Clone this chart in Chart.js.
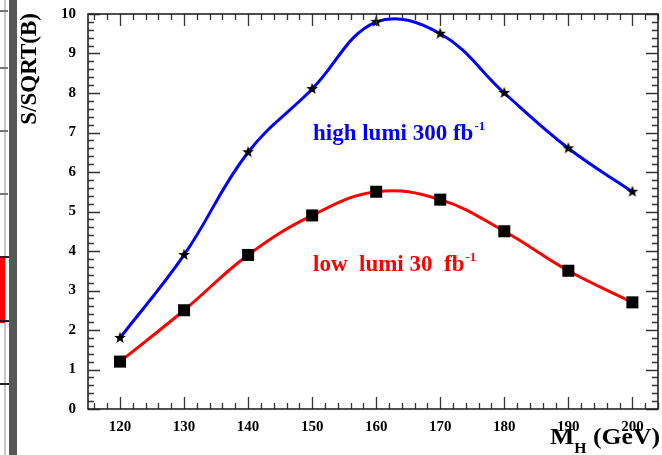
<!DOCTYPE html>
<html>
<head>
<meta charset="utf-8">
<script src="https://cdn.jsdelivr.net/npm/chart.js@4"></script>
<style>
html,body{margin:0;padding:0;background:#fff;}
#wrap{width:662px;height:455px;position:relative;}
</style>
</head>
<body>
<div id="wrap"><canvas id="c" width="662" height="455"></canvas></div>
<script>
// ---- data ----
const massPoints = [120, 130, 140, 150, 160, 170, 180, 190, 200];
const highLumi = [1.8, 3.9, 6.5, 8.1, 9.8, 9.5, 8.0, 6.6, 5.5];
const lowLumi  = [1.2, 2.5, 3.9, 4.9, 5.5, 5.3, 4.5, 3.5, 2.7];
const xTickValues = [120, 130, 140, 150, 160, 170, 180, 190, 200];
const yTickValues = [0, 1, 2, 3, 4, 5, 6, 7, 8, 9, 10];

const SERIF = '"Liberation Serif", "DejaVu Serif", serif';

function makeStar(size, outer, inner) {
  const cv = document.createElement('canvas');
  cv.width = size; cv.height = size;
  const g = cv.getContext('2d');
  const c = size / 2;
  g.beginPath();
  for (let i = 0; i < 10; i++) {
    const r = i % 2 === 0 ? outer : inner;
    const a = -Math.PI / 2 + i * Math.PI / 5;
    const px = c + r * Math.cos(a), py = c + r * Math.sin(a);
    if (i === 0) g.moveTo(px, py); else g.lineTo(px, py);
  }
  g.closePath();
  g.fillStyle = '#000';
  g.fill();
  return cv;
}
const starImg = makeStar(14, 6.2, 2.6);

const decor = {
  id: 'decor',
  beforeDraw(chart) {
    const ctx = chart.ctx;
    ctx.save();
    ctx.fillStyle = '#fff';
    ctx.fillRect(0, 0, chart.width, chart.height);
    ctx.fillStyle = '#585858';
    ctx.fillRect(9, 0, 8, 455);
    ctx.fillStyle = '#c8c8c8';
    ctx.fillRect(4, 0, 2, 455);
    ctx.fillStyle = '#ff0000';
    ctx.fillRect(0, 256, 5, 67);
    ctx.fillStyle = '#777';
    [10, 67, 130, 193].forEach(y => ctx.fillRect(0, y, 8, 2));
    ctx.fillStyle = '#222';
    [256, 320, 383].forEach(y => ctx.fillRect(0, y, 9, 2));
    ctx.restore();
  },
  afterDraw(chart) {
    const ctx = chart.ctx;
    const xs = chart.scales.x, ys = chart.scales.y;
    const a = chart.chartArea;
    ctx.save();
    ctx.strokeStyle = '#333';
    ctx.lineWidth = 1.3;
    ctx.beginPath();
    for (let v = 116; v <= 204; v += 2) {
      const px = Math.round(xs.getPixelForValue(v)) + 0.5;
      const len = (v % 10 === 0) ? 12 : 6;
      ctx.moveTo(px, a.bottom); ctx.lineTo(px, a.bottom - len);
      ctx.moveTo(px, a.top); ctx.lineTo(px, a.top + len);
    }
    for (let i = 0; i <= 50; i++) {
      const v = i * 0.2;
      const py = Math.round(ys.getPixelForValue(v)) + 0.5;
      const len = (i % 5 === 0) ? 12 : 6;
      ctx.moveTo(a.left, py); ctx.lineTo(a.left + len, py);
      ctx.moveTo(a.right, py); ctx.lineTo(a.right - len, py);
    }
    ctx.stroke();
    ctx.lineWidth = 1.6;
    ctx.strokeStyle = '#222';
    ctx.strokeRect(a.left, a.top, a.right - a.left, a.bottom - a.top);

    // y title
    ctx.fillStyle = '#000';
    ctx.font = 'bold 23px ' + SERIF;
    ctx.save();
    ctx.translate(30, 13);
    ctx.rotate(-Math.PI / 2);
    ctx.textAlign = 'right';
    ctx.textBaseline = 'middle';
    ctx.fillText('S/SQRT(B)', 0, 0);
    ctx.restore();

    // x title
    ctx.save();
    ctx.textAlign = 'left';
    ctx.textBaseline = 'alphabetic';
    ctx.translate(550, 444);
    ctx.scale(1.12, 1);
    ctx.font = 'bold 23px ' + SERIF;
    ctx.fillText('M', 0, 0);
    const w = ctx.measureText('M').width;
    ctx.font = 'bold 14px ' + SERIF;
    ctx.fillText('H', w, 9);
    const wh = ctx.measureText('H').width;
    ctx.font = 'bold 23px ' + SERIF;
    ctx.fillText(' (GeV)', w + wh, 0);
    ctx.restore();

    // annotations
    function label(text, sup, x, y, color) {
      ctx.fillStyle = color;
      ctx.font = 'bold 23px ' + SERIF;
      ctx.fillText(text, x, y);
      const tw = ctx.measureText(text).width;
      ctx.font = 'bold 13px ' + SERIF;
      ctx.fillText(sup, x + tw + 1, y - 10);
    }
    label('high lumi 300 fb', '-1', 313, 140, '#0000ff');
    label('low  lumi 30  fb', '-1', 313, 271, '#ff0000');
    ctx.restore();
  }
};

new Chart(document.getElementById('c'), {
  type: 'line',
  data: {
    labels: massPoints,
    datasets: [
      {
        label: 'high lumi 300 fb-1',
        data: massPoints.map((m, i) => ({x: m, y: highLumi[i]})),
        borderColor: '#0000ff',
        borderWidth: 3,
        tension: 0.4,
        pointStyle: starImg,
        pointRadius: 6,
        fill: false
      },
      {
        label: 'low lumi 30 fb-1',
        data: massPoints.map((m, i) => ({x: m, y: lowLumi[i]})),
        borderColor: '#ff0000',
        borderWidth: 3,
        tension: 0.4,
        pointStyle: 'rect',
        pointRadius: 8.5,
        pointBackgroundColor: '#000',
        pointBorderColor: '#000',
        pointBorderWidth: 0,
        fill: false
      }
    ]
  },
  options: {
    responsive: false,
    animation: false,
    layout: { autoPadding: false, padding: { top: 14, right: 4, left: 0, bottom: 0 } },
    plugins: { legend: { display: false }, tooltip: { enabled: false } },
    scales: {
      x: {
        type: 'linear',
        min: 115, max: 204,
        afterBuildTicks: s => { s.ticks = xTickValues.map(v => ({value: v})); },
        afterFit: s => { s.height = 46; s.paddingLeft = 0; s.paddingRight = 0; },
        grid: { display: false, drawTicks: false, tickLength: 0 },
        border: { display: false },
        ticks: { color: '#000', padding: 9, maxRotation: 0, autoSkip: false,
                 font: { family: SERIF, size: 15, weight: 'bold' } }
      },
      y: {
        type: 'linear',
        min: 0, max: 10,
        afterBuildTicks: s => { s.ticks = yTickValues.map(v => ({value: v})); },
        afterFit: s => { s.width = 88; s.paddingTop = 0; s.paddingBottom = 0; },
        grid: { display: false, drawTicks: false, tickLength: 0 },
        border: { display: false },
        ticks: { color: '#000', padding: 12, autoSkip: false,
                 font: { family: SERIF, size: 15, weight: 'bold' } }
      }
    }
  },
  plugins: [decor]
});
</script>
</body>
</html>
